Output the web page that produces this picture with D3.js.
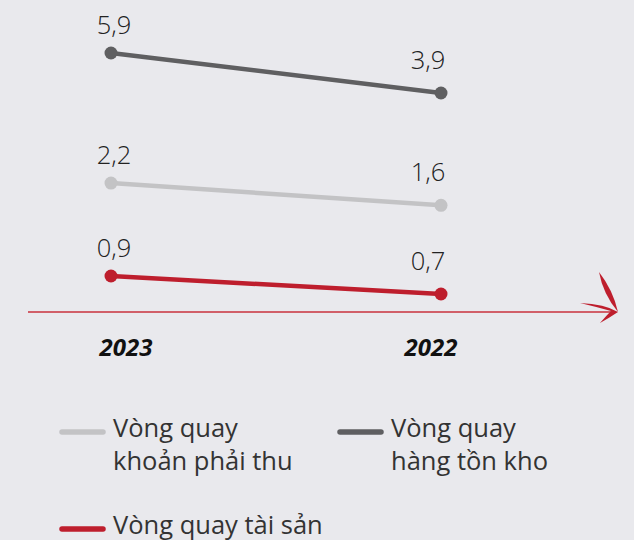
<!DOCTYPE html>
<html><head><meta charset="utf-8">
<script src="https://cdn.jsdelivr.net/npm/d3@7"></script>
<style>
html,body{margin:0;padding:0;background:#e9e9ed;}
svg{display:block;font-family:"Open Sans",sans-serif;}
</style></head>
<body>
<svg id="c" width="634" height="540"></svg>
<script>
const years = ["2023", "2022"];
const seriesNames = ["Vòng quay khoản phải thu", "Vòng quay hàng tồn kho", "Vòng quay tài sản"];
const receivables = [2.2, 1.6];
const inventory = [5.9, 3.9];
const assets = [0.9, 0.7];
const colors = ["#c3c3c5", "#5f5f61", "#be1e2d"];

const series = [
  {name: seriesNames[0], values: receivables, color: colors[0]},
  {name: seriesNames[1], values: inventory, color: colors[1]},
  {name: seriesNames[2], values: assets, color: colors[2]}
];

const svg = d3.select("#c");
const x = d3.scalePoint().domain(years).range([111, 441]);
// broken (polylinear) value axis, as in the infographic
const y = d3.scaleLinear().domain([0.5, 1, 1.5, 2.5, 3.5, 6]).range([312, 267, 209, 172, 101, 51]);
const fmt = v => d3.format(".1f")(v).replace(".", ",");

// axis line with feather arrow
const axisY = y(0.5);
svg.append("line").attr("x1", 28).attr("x2", 615).attr("y1", axisY).attr("y2", axisY)
  .attr("stroke", "#c8303c").attr("stroke-width", 1.3);
const tipX = 618;
svg.append("path")
  .attr("d", `M599,${axisY-40} Q613,${axisY-22} ${tipX},${axisY} Q603,${axisY-18} 599,${axisY-40} Z`)
  .attr("fill", "#be1e2d");
svg.append("path")
  .attr("d", `M580,${axisY-9} Q605,${axisY-8} ${tipX},${axisY} Q609,${axisY+6} 600,${axisY+11} Q607,${axisY+3} 611,${axisY-1} Q597,${axisY-5} 580,${axisY-9} Z`)
  .attr("fill", "#be1e2d");

// year labels
svg.selectAll("text.year").data(years).join("text")
  .attr("class", "year")
  .attr("x", d => x(d) + (d === "2023" ? 15 : -10))
  .attr("y", axisY + 44)
  .attr("text-anchor", "middle")
  .attr("font-size", 24).attr("font-weight", 700).attr("font-style", "italic")
  .attr("fill", "#111")
  .text(d => d);

const line = d3.line().x((d, i) => x(years[i])).y(d => y(d));

const g = svg.selectAll("g.s").data(series).join("g").attr("class", "s");
g.append("path")
  .attr("d", d => line(d.values))
  .attr("fill", "none").attr("stroke", d => d.color).attr("stroke-width", 4.5);
g.selectAll("circle").data(d => d.values.map((v, i) => ({v, i, c: d.color}))).join("circle")
  .attr("cx", d => x(years[d.i])).attr("cy", d => y(d.v)).attr("r", 6.5)
  .attr("fill", d => d.c);
g.selectAll("text").data(d => d.values.map((v, i) => ({v, i}))).join("text")
  .attr("x", d => x(years[d.i]) + (d.i === 0 ? 3 : -13))
  .attr("y", d => y(d.v) - (d.i === 0 ? 19 : 24))
  .attr("text-anchor", "middle")
  .attr("font-size", 25.5).attr("font-weight", 300).attr("fill", "#222")
  .text(d => fmt(d.v));

// legend
const legendPos = [[62, 432], [340, 432], [62, 529]];
const lg = svg.selectAll("g.lg").data(series).join("g").attr("class", "lg")
  .attr("transform", (d, i) => `translate(${legendPos[i][0]},${legendPos[i][1]})`);
lg.append("line").attr("x1", 0).attr("x2", 41).attr("y1", 0).attr("y2", 0)
  .attr("stroke", d => d.color).attr("stroke-width", 5.5).attr("stroke-linecap", "round");
lg.each(function(d) {
  const words = d.name.split(" ");
  const lines = d.name === seriesNames[2] ? [d.name] : [words.slice(0, 2).join(" "), words.slice(2).join(" ")];
  const t = d3.select(this).append("text").attr("x", 51).attr("y", 5)
    .attr("font-size", 25.5).attr("font-weight", 400).attr("fill", "#333");
  lines.forEach((l, k) => t.append("tspan").attr("x", 51).attr("dy", k === 0 ? 0 : 33).text(l));
});
</script>
</body></html>
